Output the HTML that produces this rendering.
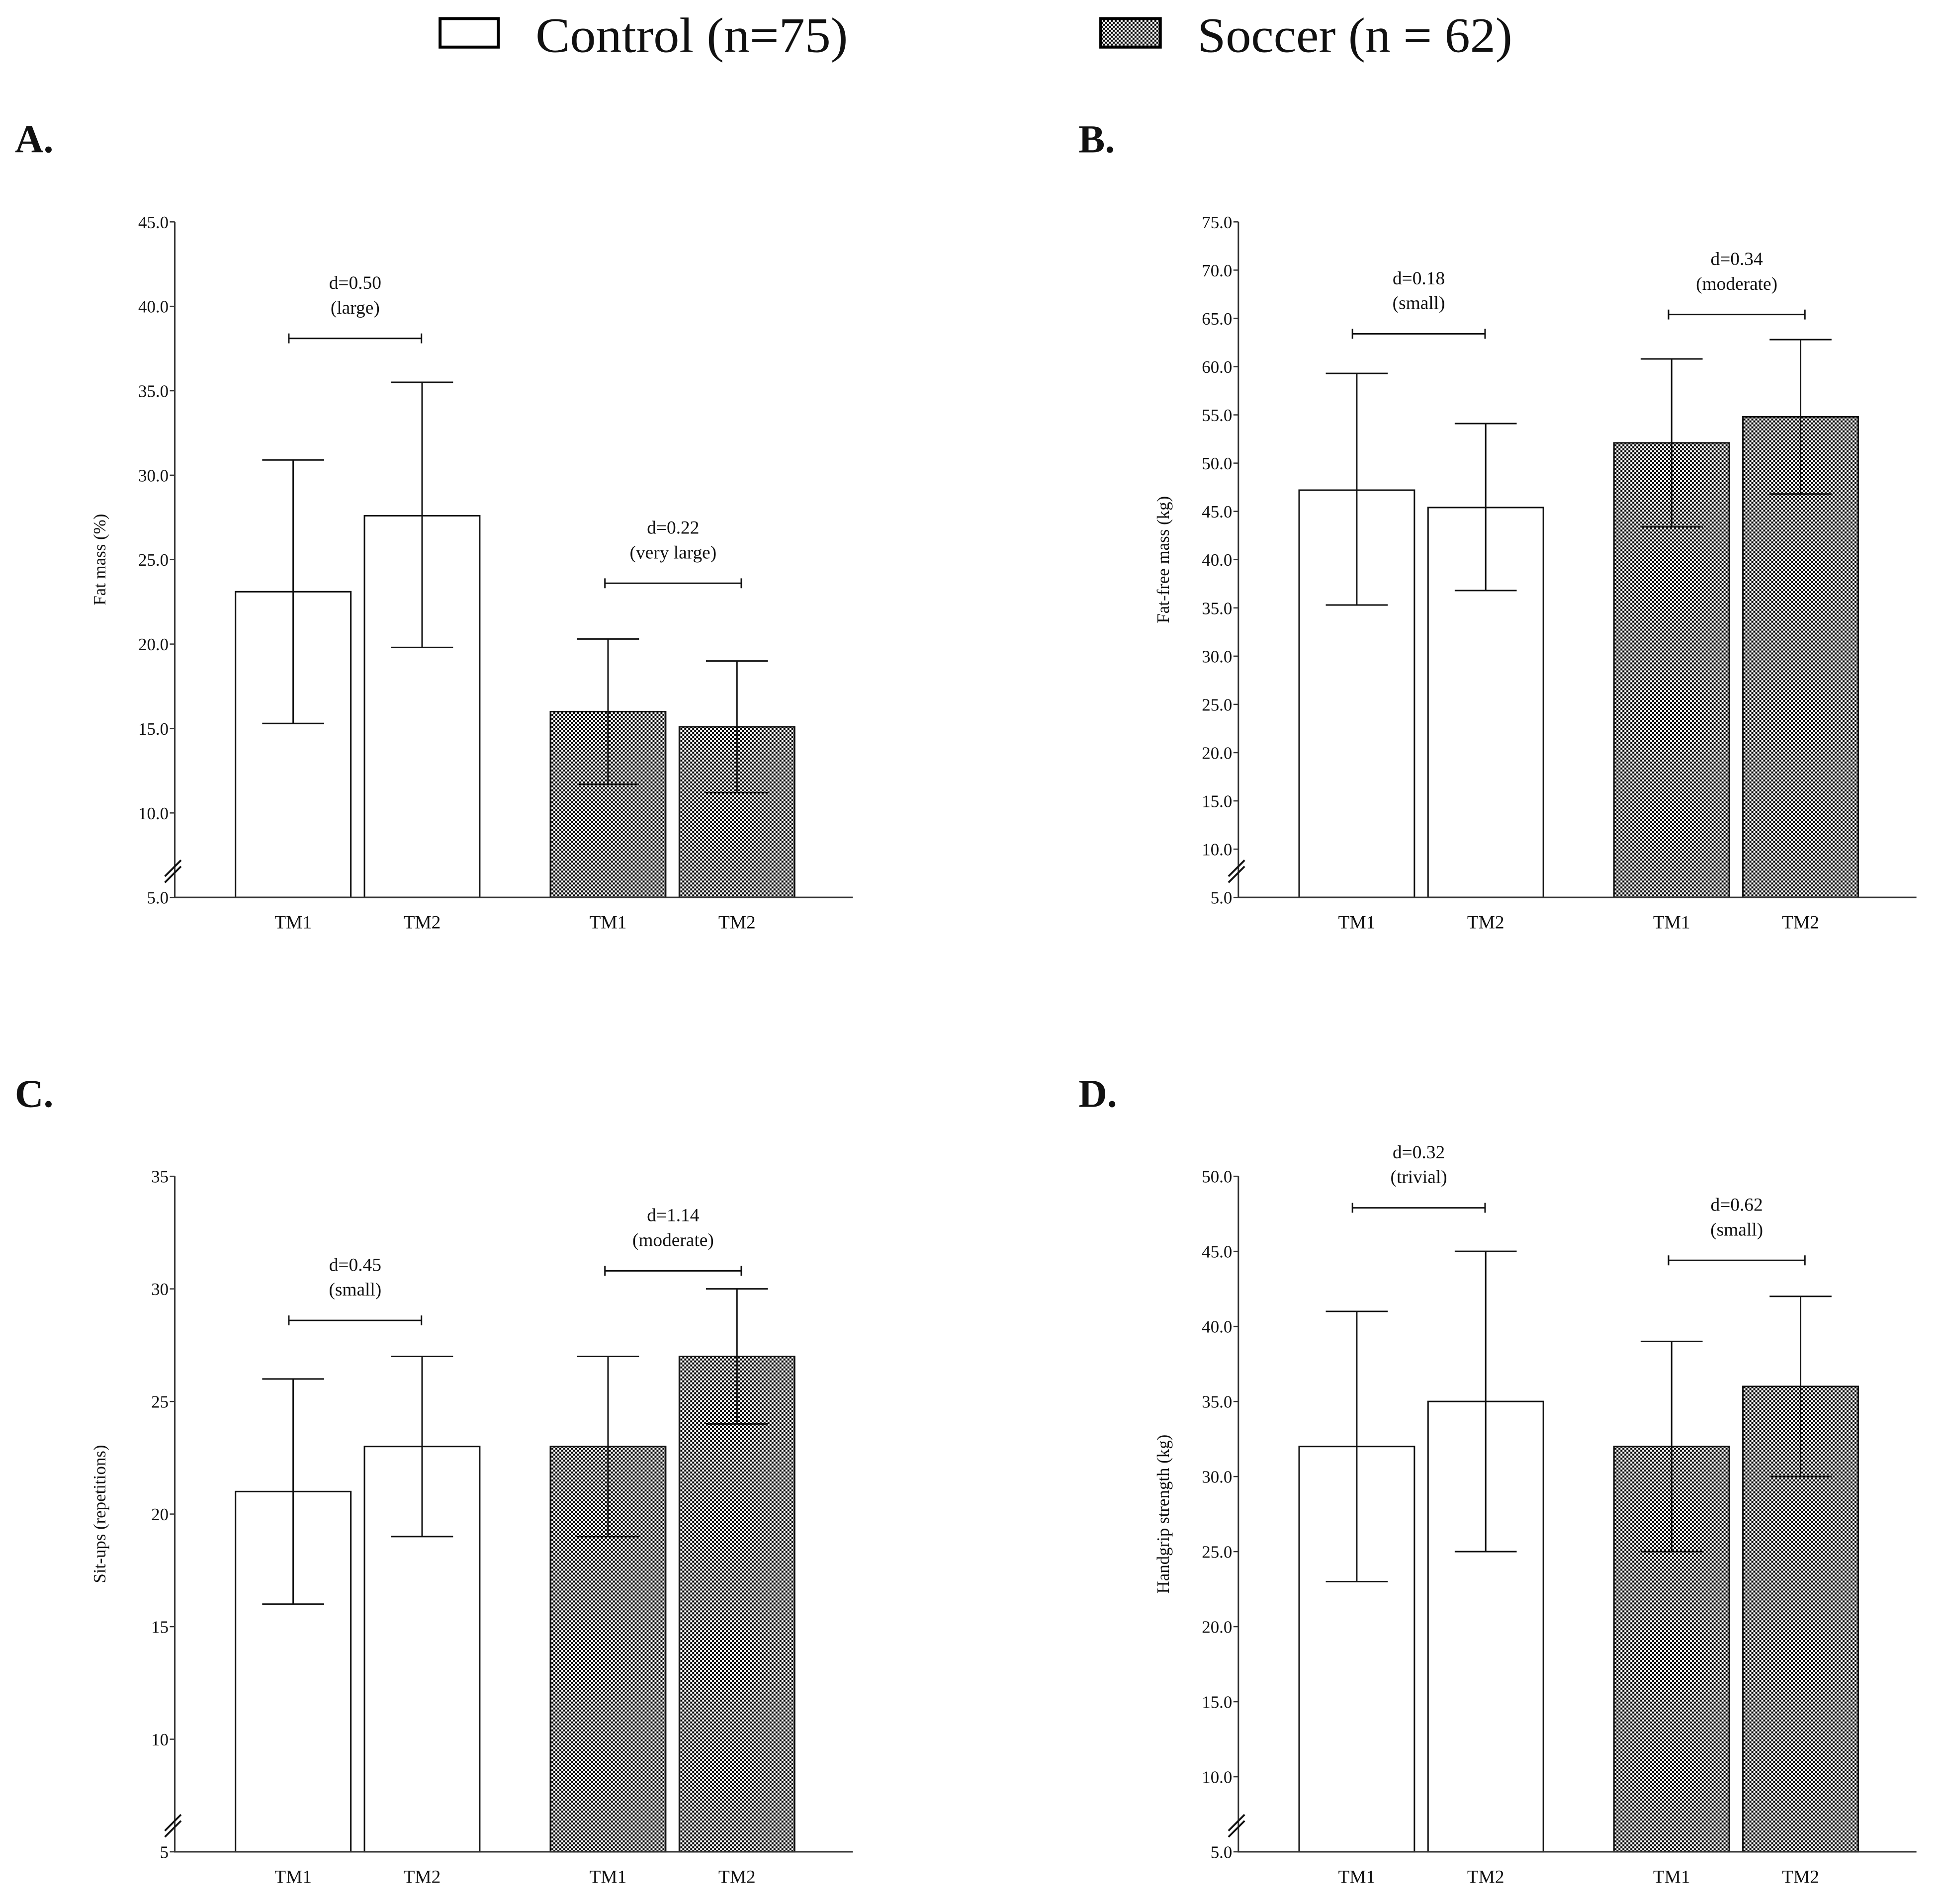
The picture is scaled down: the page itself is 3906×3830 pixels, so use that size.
<!DOCTYPE html>
<html><head><meta charset="utf-8"><style>
html,body{margin:0;padding:0;background:#fff;}
svg{display:block;}
text{font-family:"Liberation Serif","DejaVu Serif",serif;fill:#111;}
</style></head><body>
<svg id="fig" xmlns="http://www.w3.org/2000/svg" width="3906" height="3830" viewBox="0 0 1566.6 1536.1" preserveAspectRatio="none">
<defs>
<pattern id="checker" width="3.2" height="3.2" patternUnits="userSpaceOnUse">
<rect width="3.2" height="3.2" fill="#fff"/>
<rect width="1.6" height="1.6" fill="#000"/>
<rect x="1.6" y="1.6" width="1.6" height="1.6" fill="#000"/>
</pattern>
</defs>
<g>
<rect x="355" y="15" width="47" height="23" fill="#fff" stroke="#000" stroke-width="2.4"/>
<text x="432" y="42" font-size="40" textLength="252" lengthAdjust="spacingAndGlyphs">Control (n=75)</text>
<rect x="888" y="15" width="48" height="23" fill="url(#checker)" stroke="#000" stroke-width="2.4"/>
<text x="966" y="42" font-size="40" textLength="254" lengthAdjust="spacingAndGlyphs">Soccer (n = 62)</text>
</g>
<g id="panels"></g>
</svg>
<script>
// Panel A: Fat mass (%)
const aValues = [23.1, 27.6, 16.0, 15.1];
const aLow = [15.3, 19.8, 11.7, 11.2];
const aHigh = [30.9, 35.5, 20.3, 19.0];
const aTicks = [5, 10, 15, 20, 25, 30, 35, 40, 45];
const aBracketY = [38.1, 23.6];
const aBracketText = [["d=0.50", "(large)"], ["d=0.22", "(very large)"]];
// Panel B: Fat-free mass (kg)
const bValues = [47.2, 45.4, 52.1, 54.8];
const bLow = [35.3, 36.8, 43.4, 46.8];
const bHigh = [59.3, 54.1, 60.8, 62.8];
const bTicks = [5, 10, 15, 20, 25, 30, 35, 40, 45, 50, 55, 60, 65, 70, 75];
const bBracketY = [63.4, 65.4];
const bBracketText = [["d=0.18", "(small)"], ["d=0.34", "(moderate)"]];
// Panel C: Sit-ups (repetitions)
const cValues = [21, 23, 23, 27];
const cLow = [16, 19, 19, 24];
const cHigh = [26, 27, 27, 30];
const cTicks = [5, 10, 15, 20, 25, 30, 35];
const cBracketY = [28.6, 30.8];
const cBracketText = [["d=0.45", "(small)"], ["d=1.14", "(moderate)"]];
// Panel D: Handgrip strength (kg)
const dValues = [32, 35, 32, 36];
const dLow = [23, 25, 25, 30];
const dHigh = [41, 45, 39, 42];
const dTicks = [5, 10, 15, 20, 25, 30, 35, 40, 45, 50];
const dBracketY = [47.9, 44.4];
const dBracketText = [["d=0.32", "(trivial)"], ["d=0.62", "(small)"]];
const categories = ["TM1", "TM2", "TM1", "TM2"];

const NS = "http://www.w3.org/2000/svg";
const root = document.getElementById("panels");
function mk(tag, attrs, parent) {
  const e = document.createElementNS(NS, tag);
  for (const k in attrs) e.setAttribute(k, attrs[k]);
  parent.appendChild(e);
  return e;
}
function panel(cfg) {
  const g = mk("g", {}, root);
  
  
  const ax = cfg.ox, top = cfg.top, bot = cfg.top + 545, right = ax + 547;
  const min = cfg.ticks[0], max = cfg.ticks[cfg.ticks.length - 1];
  const y = v => bot - (v - min) / (max - min) * (bot - top);
  const barX = [ax + 49, ax + 153, ax + 303, ax + 407];
  const bw = 93;
  const L = mk("text", {x: cfg.ox - 129, y: top - 56, "font-size": 32, "font-weight": "bold"}, g);
  L.textContent = cfg.letter;
  
  
  cfg.values.forEach((v, i) => {
    const r = mk("rect", {x: barX[i], y: y(v), width: bw, height: bot - y(v), fill: i < 2 ? "#fff" : "url(#checker)", stroke: "#111", "stroke-width": 1.2}, g);
    
    
    const cx = barX[i] + bw / 2;
    const eb = mk("path", {d: `M${cx},${y(cfg.low[i])}V${y(cfg.high[i])}M${cx-25},${y(cfg.high[i])}H${cx+25}M${cx-25},${y(cfg.low[i])}H${cx+25}`, stroke: "#111", "stroke-width": 1.2, fill: "none"}, g);
    
    
    const t = mk("text", {x: cx, y: bot + 25, "font-size": 15, "text-anchor": "middle"}, g);
    t.textContent = categories[i];
    
    
  });
  const axes = mk("path", {d: `M${ax},${top}V${bot}H${right}`, stroke: "#333", "stroke-width": 1.2, fill: "none"}, g);
  
  
  const brk = mk("path", {d: `M${ax-8},${bot-12}L${ax+5},${bot-25}M${ax-8},${bot-17}L${ax+5},${bot-30}`, stroke: "#111", "stroke-width": 1.5, fill: "none"}, g);
  
  
  cfg.ticks.forEach(tv => {
    const tk = mk("line", {x1: ax - 4, x2: ax, y1: y(tv), y2: y(tv), stroke: "#333", "stroke-width": 1}, g);
    
    
    const tl = mk("text", {x: ax - 5, y: y(tv) + 5, "font-size": 14, "text-anchor": "end"}, g);
    tl.textContent = cfg.integer ? String(tv) : tv.toFixed(1);
    
    
  });
  const yt = mk("text", {x: 0, y: 0, "font-size": 14, "text-anchor": "middle", transform: `translate(${ax - 56},${(top + bot) / 2}) rotate(-90)`}, g);
  yt.textContent = cfg.ytitle;
  
  
  const bx = [[ax + 92, ax + 199], [ax + 347, ax + 457]];
  cfg.bracketY.forEach((bv, j) => {
    const yy = y(bv);
    const b = mk("path", {d: `M${bx[j][0]},${yy}H${bx[j][1]}M${bx[j][0]},${yy-4}V${yy+4}M${bx[j][1]},${yy-4}V${yy+4}`, stroke: "#111", "stroke-width": 1.2, fill: "none"}, g);
    
    
    const mx = (bx[j][0] + bx[j][1]) / 2;
    const t1 = mk("text", {x: mx, y: yy - 40, "font-size": 15, "text-anchor": "middle"}, g);
    t1.textContent = cfg.bracketText[j][0];
    
    
    const t2 = mk("text", {x: mx, y: yy - 20, "font-size": 15, "text-anchor": "middle"}, g);
    t2.textContent = cfg.bracketText[j][1];
    
    
  });
}
panel({name: "panel-a-fat-mass", letter: "A.", ox: 141, top: 179, values: aValues, low: aLow, high: aHigh, ticks: aTicks, bracketY: aBracketY, bracketText: aBracketText, ytitle: "Fat mass (%)"});
panel({name: "panel-b-fat-free-mass", letter: "B.", ox: 999, top: 179, values: bValues, low: bLow, high: bHigh, ticks: bTicks, bracketY: bBracketY, bracketText: bBracketText, ytitle: "Fat-free mass (kg)"});
panel({name: "panel-c-sit-ups", letter: "C.", ox: 141, top: 949, values: cValues, low: cLow, high: cHigh, ticks: cTicks, bracketY: cBracketY, bracketText: cBracketText, ytitle: "Sit-ups (repetitions)", integer: true});
panel({name: "panel-d-handgrip", letter: "D.", ox: 999, top: 949, values: dValues, low: dLow, high: dHigh, ticks: dTicks, bracketY: dBracketY, bracketText: dBracketText, ytitle: "Handgrip strength (kg)"});
</script>
</body></html>
